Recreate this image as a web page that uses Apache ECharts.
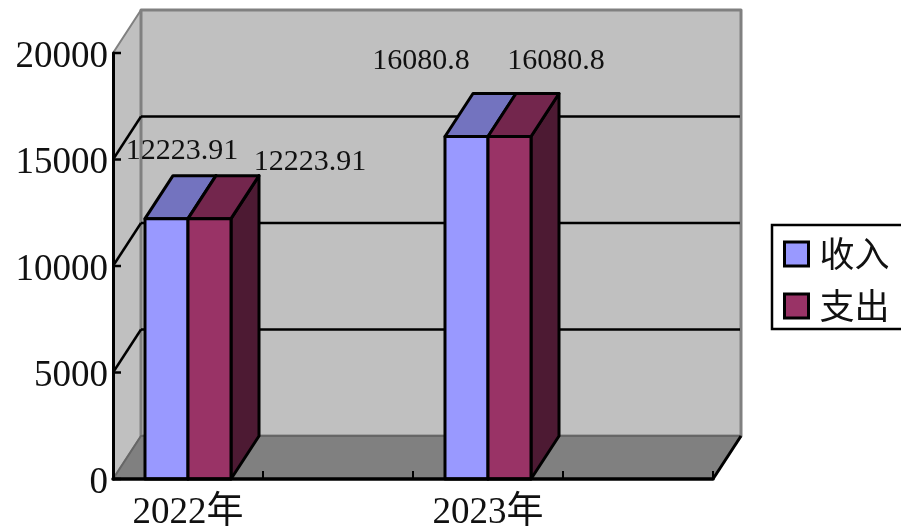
<!DOCTYPE html>
<html><head><meta charset="utf-8">
<style>html,body{margin:0;padding:0;background:#fff;overflow:hidden}#c{width:901px;height:528px}</style>
<script src="https://cdn.jsdelivr.net/npm/echarts@6/dist/echarts.min.js"></script>
</head><body><div id="c"></div>
<script>
var categories = ['2022年', '', '2023年', ''];
var income = [12223.91, null, 16080.8, null];
var expense = [12223.91, null, 16080.8, null];
var gridValues = [5000, 10000, 15000];
var yTicks = [0, 5000, 10000, 15000, 20000];
var seriesNames = ['收入', '支出'];

var DX = 28, DY = -43;
var FONT = '"Liberation Serif","Noto Sans CJK SC",serif';
var chart = echarts.init(document.getElementById('c'), null, {renderer: 'canvas'});

function poly(pts, fill, stroke, lw) {
  return {type: 'polygon', shape: {points: pts}, style: {fill: fill, stroke: stroke, lineWidth: lw, lineJoin: 'round'}};
}
function seg(a, b, color, lw) {
  return {type: 'line', shape: {x1: a[0], y1: a[1], x2: b[0], y2: b[1]}, style: {stroke: color, lineWidth: lw}};
}
function wallsRender(params, api) {
  var c = params.coordSys;
  var l = c.x, r = c.x + c.width, t = c.y, b = c.y + c.height;
  return {type: 'group', children: [
    poly([[l, t], [l + DX, t + DY], [l + DX, b + DY], [l, b]], '#c0c0c0', '#808080', 2),
    poly([[l + DX, t + DY], [r + DX, t + DY], [r + DX, b + DY], [l + DX, b + DY]], '#c0c0c0', '#808080', 3),
    poly([[l, b], [l + DX, b + DY], [r + DX, b + DY], [r, b]], '#808080', '#666666', 2),
    seg([r, b], [r + DX, b + DY], '#000', 3)
  ]};
}
function gridRender(params, api) {
  var p = api.coord([0, api.value(1)]);
  var c = params.coordSys;
  var y = p[1], l = c.x, r = c.x + c.width;
  return {type: 'group', children: [
    seg([l, y], [l + DX, y + DY], '#000', 2.5),
    seg([l + DX, y + DY], [r + DX - 1, y + DY], '#000', 2.5)
  ]};
}
function yTickRender(params, api) {
  var p = api.coord([0, api.value(1)]);
  var l = params.coordSys.x;
  return seg([l, p[1]], [l + 8, p[1]], '#000', 2.5);
}
function xTickRender(params, api) {
  var p = api.coord([api.value(0), 0]);
  var x = p[0] + api.size([1, 0])[0] / 2;
  return seg([x, p[1]], [x, p[1] - 8], '#000', 2);
}
function barRender(side, colors, offset) {
  return function (params, api) {
    var v = api.value(1);
    if (v == null || isNaN(v)) return;
    var w = api.size([1, 0])[0] * 0.2867;
    var top = api.coord([api.value(0), v]);
    var base = api.coord([api.value(0), 0]);
    var x0 = top[0] + (side < 0 ? -w : 0), x1 = x0 + w, y0 = top[1], y1 = base[1];
    var off = offset[api.value(0)];
    return {type: 'group', children: [
      poly([[x1, y0], [x1 + DX, y0 + DY], [x1 + DX, y1 + DY], [x1, y1]], colors[2], '#000', 3),
      poly([[x0, y0], [x0 + DX, y0 + DY], [x1 + DX, y0 + DY], [x1, y0]], colors[1], '#000', 3),
      poly([[x0, y0], [x1, y0], [x1, y1], [x0, y1]], colors[0], '#000', 3),
      {type: 'text', z2: 50, x: top[0] + off[0], y: y0 + off[1], style: {
        text: String(v), font: '30px ' + FONT, fill: '#111', textAlign: 'center', textVerticalAlign: 'middle'}}
    ]};
  };
}
var incomeOffset = {0: [-6, -68], 2: [-67, -75]};
var expenseOffset = {0: [122, -57], 2: [68, -75]};

function rows(values) {
  return values.map(function (v, i) { return [i, v == null ? '-' : v]; });
}

chart.setOption({
  animation: false,
  backgroundColor: '#fff',
  grid: {left: 113, right: 188, top: 53, bottom: 49, containLabel: false, outerBoundsMode: 'none'},
  legend: {
    data: seriesNames, orient: 'vertical', left: 772, top: 225, icon: 'rect',
    padding: [15.5, 40, 1.5, 11], itemGap: 17, itemWidth: 24, itemHeight: 24,
    itemStyle: {borderColor: '#000', borderWidth: 3},
    borderColor: '#000', borderWidth: 2.5, backgroundColor: '#fff',
    formatter: '{t|{name}}',
    textStyle: {fontFamily: FONT, fontSize: 35, color: '#111', rich: {
      t: {fontFamily: FONT, fontSize: 35, color: '#111', padding: [8, 0, 0, 6]}
    }}
  },
  xAxis: {
    type: 'category', data: categories, zlevel: 1,
    axisLine: {lineStyle: {color: '#000', width: 3.5}},
    axisTick: {show: false},
    axisLabel: {interval: 0, fontFamily: FONT, fontSize: 37, color: '#111', margin: 16},
    splitLine: {show: false}
  },
  yAxis: {
    type: 'value', min: 0, max: 20000, interval: 5000, zlevel: 1,
    axisLine: {show: true, lineStyle: {color: '#000', width: 3}},
    axisTick: {show: false},
    axisLabel: {fontFamily: FONT, fontSize: 37, color: '#111', margin: 5, verticalAlign: 'top', lineHeight: 8,
      formatter: function (v) { return String(v); }},
    splitLine: {show: false}
  },
  series: [
    {type: 'custom', name: 'walls', silent: true, z: 1, data: [[0, 0]], encode: {x: 0, y: 1}, renderItem: wallsRender},
    {type: 'custom', name: 'grid', silent: true, z: 2, data: gridValues.map(function (v) { return [0, v]; }), encode: {x: 0, y: 1}, renderItem: gridRender},
    {type: 'custom', name: 'xTicks', silent: true, z: 2, data: categories.map(function (c, i) { return [i, 0]; }), encode: {x: 0, y: 1}, renderItem: xTickRender},
    {type: 'custom', name: 'yTicks', silent: true, z: 2, data: yTicks.map(function (v) { return [0, v]; }), encode: {x: 0, y: 1}, renderItem: yTickRender},
    {type: 'custom', name: seriesNames[0], z: 3, data: rows(income), encode: {x: 0, y: 1},
      itemStyle: {color: '#9999ff', borderColor: '#000', borderWidth: 3},
      renderItem: barRender(-1, ['#9999ff', '#7373bf', '#4d4d80'], incomeOffset)},
    {type: 'custom', name: seriesNames[1], z: 4, data: rows(expense), encode: {x: 0, y: 1},
      itemStyle: {color: '#993366', borderColor: '#000', borderWidth: 3},
      renderItem: barRender(1, ['#993366', '#73264d', '#4d1a33'], expenseOffset)}
  ]
});
</script></body></html>
